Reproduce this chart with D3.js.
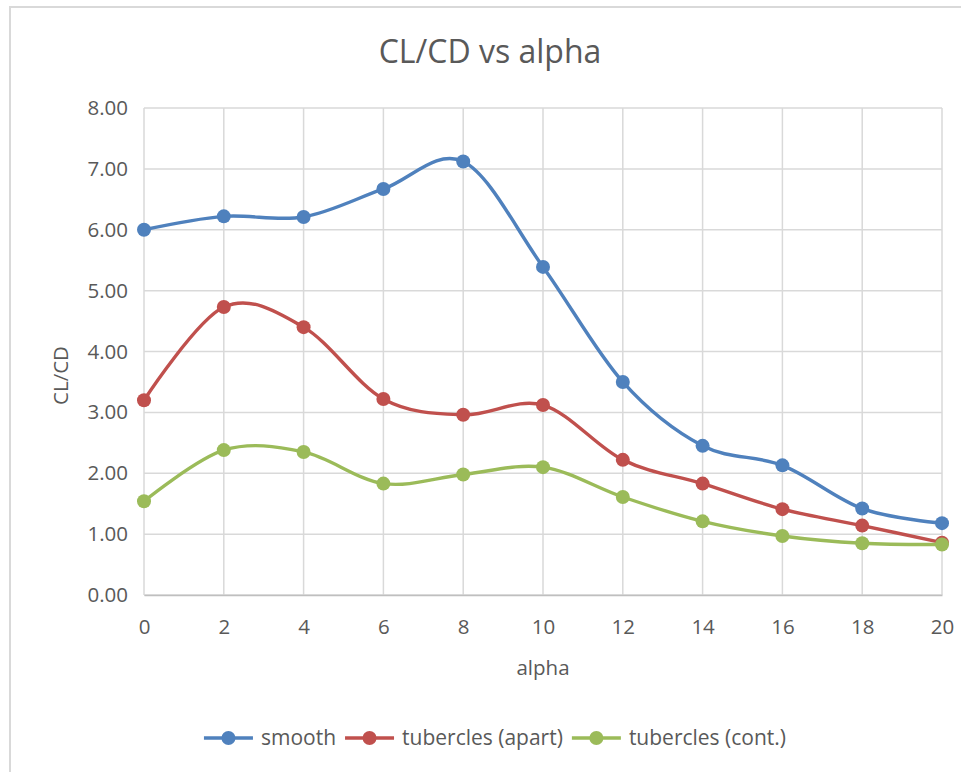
<!DOCTYPE html>
<html lang="en">
<head>
  <meta charset="UTF-8">
  <title>CL/CD vs alpha</title>
  <script src="https://cdn.jsdelivr.net/npm/d3@7/dist/d3.min.js"></script>
  <style>
    body { margin: 0; background: #fff; }
    text { font-family: "Open Sans", sans-serif; fill: #595959; }
  </style>
</head>
<body>
  <div id="chart"></div>

  <script>
    // data
    var alpha = [0, 2, 4, 6, 8, 10, 12, 14, 16, 18, 20];
    var smooth = [6.00, 6.22, 6.21, 6.67, 7.12, 5.39, 3.50, 2.45, 2.13, 1.42, 1.18];
    var apart = [3.20, 4.73, 4.40, 3.22, 2.96, 3.12, 2.22, 1.83, 1.41, 1.14, 0.86];
    var cont = [1.54, 2.38, 2.35, 1.83, 1.98, 2.10, 1.61, 1.21, 0.97, 0.85, 0.83];
    var seriesNames = ["smooth", "tubercles (apart)", "tubercles (cont.)"];
    var colors = ["#4f81bd", "#c0504d", "#9bbb59"];
    var yTicks = [0, 1, 2, 3, 4, 5, 6, 7, 8];

    var series = [smooth, apart, cont].map(function (v, i) {
      return { name: seriesNames[i], color: colors[i], values: v };
    });

    var W = 961, H = 772;
    var margin = { top: 108, right: 19, bottom: 177, left: 144 },
      width = W - margin.left - margin.right,
      height = H - margin.top - margin.bottom;

    var svg = d3.select("#chart")
      .append("svg")
      .attr("width", W)
      .attr("height", H);

    // chart frame
    svg.append("rect")
      .attr("x", 10).attr("y", 7)
      .attr("width", 970).attr("height", 790)
      .attr("fill", "#fff")
      .attr("stroke", "#d9d9d9")
      .attr("stroke-width", 2);

    svg.append("text")
      .attr("x", 490).attr("y", 63)
      .attr("text-anchor", "middle")
      .style("font-size", "32px")
      .text("CL/CD vs alpha");

    var g = svg.append("g")
      .attr("transform", "translate(" + margin.left + "," + margin.top + ")");

    var x = d3.scaleLinear().domain([0, 20]).range([0, width]);
    var y = d3.scaleLinear().domain([0, 8]).range([height, 0]);

    // gridlines
    g.append("g")
      .selectAll("line")
      .data(yTicks)
      .enter().append("line")
      .attr("x1", 0).attr("x2", width)
      .attr("y1", function (d) { return y(d); })
      .attr("y2", function (d) { return y(d); })
      .attr("stroke", "#d9d9d9")
      .attr("stroke-width", 1.5);

    g.append("g")
      .selectAll("line")
      .data(alpha)
      .enter().append("line")
      .attr("x1", function (d) { return x(d); })
      .attr("x2", function (d) { return x(d); })
      .attr("y1", 0).attr("y2", height)
      .attr("stroke", "#d9d9d9")
      .attr("stroke-width", 1.5);

    // y axis labels
    var yAxis = g.append("g")
      .call(d3.axisLeft(y).tickValues(yTicks).tickFormat(d3.format(".2f")).tickSize(0).tickPadding(16));
    yAxis.select(".domain").remove();
    yAxis.selectAll("text").style("font-size", "20.5px").attr("fill", null);

    // x axis
    var xAxis = g.append("g")
      .attr("transform", "translate(0," + height + ")")
      .call(d3.axisBottom(x).tickValues(alpha).tickSize(0).tickPadding(24));
    xAxis.select(".domain").attr("stroke", "#bfbfbf").attr("stroke-width", 1.5);
    xAxis.selectAll("text").style("font-size", "20.5px").attr("fill", null);

    // axis titles
    svg.append("text")
      .attr("x", margin.left + width / 2).attr("y", 675)
      .attr("text-anchor", "middle")
      .style("font-size", "20.5px")
      .text("alpha");

    svg.append("text")
      .attr("transform", "translate(68," + (margin.top + height / 2 + 24) + ") rotate(-90)")
      .attr("text-anchor", "middle")
      .style("font-size", "20.5px")
      .text("CL/CD");

    // lines
    var line = d3.line()
      .x(function (d, i) { return x(alpha[i]); })
      .y(function (d) { return y(d); })
      .curve(d3.curveCardinal.tension(0));

    var sg = g.selectAll(".series")
      .data(series)
      .enter().append("g")
      .attr("class", "series");

    sg.append("path")
      .attr("fill", "none")
      .attr("stroke", function (d) { return d.color; })
      .attr("stroke-width", 3.4)
      .attr("d", function (d) { return line(d.values); });

    sg.selectAll("circle")
      .data(function (d) { return d.values.map(function (v, i) { return { v: v, a: alpha[i], c: d.color }; }); })
      .enter().append("circle")
      .attr("cx", function (d) { return x(d.a); })
      .attr("cy", function (d) { return y(d.v); })
      .attr("r", 7)
      .attr("fill", function (d) { return d.c; });

    // legend
    var legend = svg.append("g");
    var lx = 0;
    series.forEach(function (s, i) {
      var item = legend.append("g").attr("transform", "translate(" + lx + ",0)");
      item.append("line")
        .attr("x1", 0).attr("x2", 49)
        .attr("stroke", s.color).attr("stroke-width", 3.4);
      item.append("circle")
        .attr("cx", 24.5).attr("r", 7).attr("fill", s.color);
      var t = item.append("text")
        .attr("x", 57).attr("dy", "0.35em")
        .style("font-size", "21px")
        .text(s.name);
      lx += 57 + t.node().getComputedTextLength() + 9;
    });
    legend.attr("transform", "translate(" + (495 - (lx - 9) / 2) + ",738)");
  </script>
</body>
</html>
